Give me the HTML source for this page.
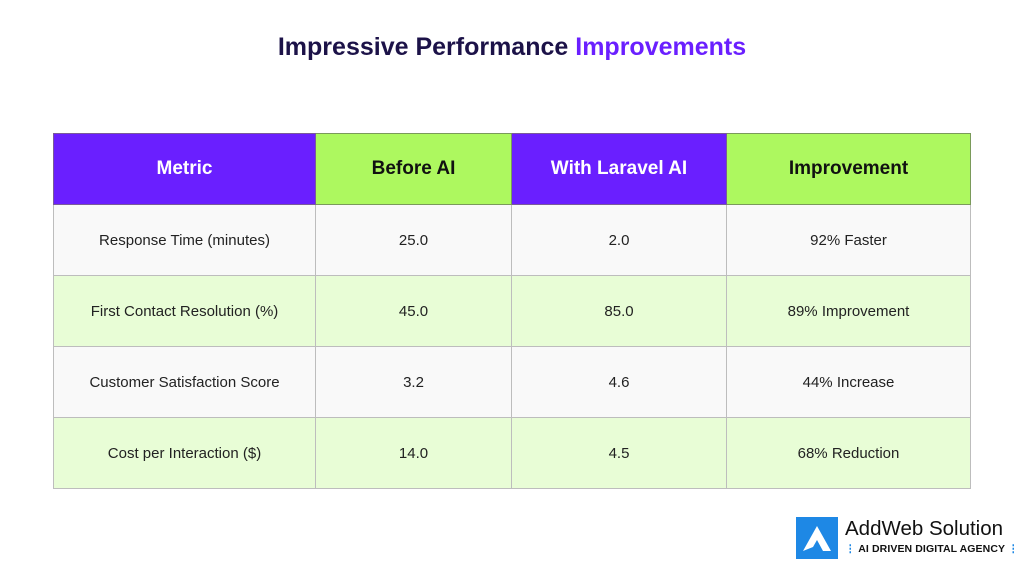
<!DOCTYPE html>
<html><head><style>
body{margin:0;width:1024px;height:576px;background:#fff;font-family:"Liberation Sans",sans-serif;position:relative;overflow:hidden}
h1{position:absolute;top:30px;left:0;width:1024px;text-align:center;margin:0;font-size:25px;font-weight:bold;color:#1c1248;line-height:34px}
h1 span{color:#6a1fff}
table{position:absolute;left:53px;top:133px;border-collapse:collapse;width:918px}
td,th{border:1px solid #bdbdbd;text-align:center;font-size:15px;color:#222;height:70px;padding:0}
th{font-size:19px;font-weight:bold;height:70px}
th.p{background:#6a1fff;color:#fff;border-color:#7a5a9a}
th.g{background:#adf85f;color:#111;border-color:#7a9a5a}
tr.w td{background:#f9f9f9}
tr.l td{background:#e8fdd6}
.logo{position:absolute;left:796px;top:517px;width:42px;height:42px;background:#1e88e5}
.lt{position:absolute;left:845px;top:517px;font-size:20.5px;color:#111}
.ls{position:absolute;left:845px;top:543px;font-size:10.5px;font-weight:bold;color:#111;letter-spacing:.1px}
</style></head><body>
<h1>Impressive Performance <span>Improvements</span></h1>
<table>
<tr><th class="p" style="width:261px">Metric</th><th class="g" style="width:195px">Before AI</th><th class="p" style="width:214px">With Laravel AI</th><th class="g">Improvement</th></tr>
<tr class="w"><td>Response Time (minutes)</td><td>25.0</td><td>2.0</td><td>92% Faster</td></tr>
<tr class="l"><td>First Contact Resolution (%)</td><td>45.0</td><td>85.0</td><td>89% Improvement</td></tr>
<tr class="w"><td>Customer Satisfaction Score</td><td>3.2</td><td>4.6</td><td>44% Increase</td></tr>
<tr class="l"><td>Cost per Interaction ($)</td><td>14.0</td><td>4.5</td><td>68% Reduction</td></tr>
</table>
<div class="logo"><svg width="42" height="42"><polygon points="7,34 21,9 35,34 27,34 21,23 17,30" fill="#fff"/></svg></div>
<div class="lt">AddWeb Solution</div>
<div class="ls"><span style="color:#1e88e5">⋮</span> AI DRIVEN DIGITAL AGENCY <span style="color:#1e88e5">⋮</span></div>
</body></html>
